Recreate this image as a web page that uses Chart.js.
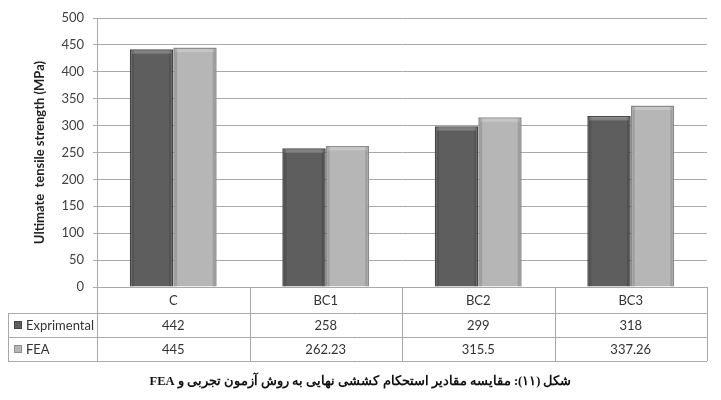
<!DOCTYPE html>
<html>
<head>
<meta charset="utf-8">
<script src="https://cdn.jsdelivr.net/npm/chart.js@4.4.0/dist/chart.umd.min.js"></script>
<style>
  body { margin: 0; background: #fff; width: 721px; height: 400px; position: relative; overflow: hidden; }
  #chart { position: absolute; left: 0; top: 0; }
  #caption {
    position: absolute; left: 0; top: 373px; width: 721px; text-align: center;
    font: bold 12.5px "Liberation Serif", "DejaVu Serif", serif; color: #111;
  }
</style>
</head>
<body>
<canvas id="chart" width="721" height="400"></canvas>
<div id="caption" dir="rtl">شکل (۱۱): مقایسه مقادیر استحکام کششی نهایی به روش آزمون تجربی و FEA</div>
<script>
// ====== DADOS ======
const categories = ["C", "BC1", "BC2", "BC3"];
const seriesNames = ["Exprimental", "FEA"];
const experimental = [442, 258, 299, 318];
const fea = [445, 262.23, 315.5, 337.26];
const expLabels = ["442", "258", "299", "318"];
const feaLabels = ["445", "262.23", "315.5", "337.26"];
const yTicks = [0, 50, 100, 150, 200, 250, 300, 350, 400, 450, 500];

const darkFill = "#5e5e5e", darkEdge = "#454545";
const lightFill = "#b6b6b6", lightEdge = "#8e8e8e";
const lineColor = "#a9a9a9";
const textFont = '13px Lato, "Open Sans", sans-serif';

// ====== EFEITO DE CHANFRO NAS BARRAS ======
const bevel = {
  id: "bevel",
  afterDatasetsDraw(chart) {
    const ctx = chart.ctx;
    ctx.save();
    chart.data.datasets.forEach((ds, di) => {
      chart.getDatasetMeta(di).data.forEach(bar => {
        const left = bar.x - bar.width / 2, top = bar.y;
        const w = bar.width, h = bar.base - bar.y;
        ctx.fillStyle = "rgba(255,255,255,0.22)";
        ctx.fillRect(left + 2, top + 1.5, w - 4, 3);
        ctx.fillStyle = "rgba(0,0,0,0.12)";
        ctx.fillRect(left + 1, top + 1, 3, h - 1);
        ctx.fillRect(left + w - 4, top + 1, 3, h - 1);
      });
    });
    ctx.restore();
  }
};

// ====== TABELA DE DADOS (abaixo do gráfico) ======
const dataTable = {
  id: "dataTable",
  afterDraw(chart) {
    const ctx = chart.ctx;
    const xs = chart.scales.x;
    const area = chart.chartArea;
    const tableLeft = 8;
    const rows = [area.bottom, area.bottom + 26, area.bottom + 50, area.bottom + 74];
    const cellW = (area.right - area.left) / categories.length;

    ctx.save();
    ctx.strokeStyle = lineColor;
    ctx.lineWidth = 1;
    ctx.beginPath();
    // linhas horizontais
    ctx.moveTo(tableLeft, rows[1] + 0.5); ctx.lineTo(area.right, rows[1] + 0.5);
    ctx.moveTo(tableLeft, rows[2] + 0.5); ctx.lineTo(area.right, rows[2] + 0.5);
    ctx.moveTo(tableLeft, rows[3] + 0.5); ctx.lineTo(area.right, rows[3] + 0.5);
    // linhas verticais
    ctx.moveTo(tableLeft + 0.5, rows[1]); ctx.lineTo(tableLeft + 0.5, rows[3]);
    for (let i = 0; i <= categories.length; i++) {
      const x = Math.round(area.left + cellW * i) + 0.5;
      ctx.moveTo(x, rows[0]); ctx.lineTo(x, rows[3]);
    }
    ctx.stroke();

    ctx.font = textFont;
    ctx.fillStyle = "#333";
    ctx.textAlign = "center";
    ctx.textBaseline = "middle";
    categories.forEach((c, i) => {
      const cx = xs.getPixelForValue(i);
      ctx.fillText(c, cx, (rows[0] + rows[1]) / 2 + 1);
      ctx.fillText(expLabels[i], cx, (rows[1] + rows[2]) / 2 + 1);
      ctx.fillText(feaLabels[i], cx, (rows[2] + rows[3]) / 2 + 1);
    });

    // legenda dentro da tabela
    ctx.textAlign = "left";
    const swatches = [[darkFill, darkEdge], [lightFill, lightEdge]];
    seriesNames.forEach((name, i) => {
      const cy = (rows[i + 1] + rows[i + 2]) / 2;
      ctx.fillStyle = swatches[i][0];
      ctx.fillRect(14, cy - 4, 8, 8);
      ctx.strokeStyle = swatches[i][1];
      ctx.strokeRect(14.5, cy - 3.5, 7, 7);
      ctx.fillStyle = "#333";
      ctx.fillText(name, 26, cy + 1);
    });
    ctx.restore();
  }
};

new Chart(document.getElementById("chart"), {
  type: "bar",
  data: {
    labels: categories,
    datasets: [
      { label: seriesNames[0], data: experimental, backgroundColor: darkFill, borderColor: darkEdge, borderWidth: 1.5 },
      { label: seriesNames[1], data: fea, backgroundColor: lightFill, borderColor: lightEdge, borderWidth: 1.5 }
    ]
  },
  options: {
    responsive: false,
    animation: false,
    layout: { padding: { left: 0, top: 18, right: 14, bottom: 113 } },
    datasets: { bar: { categoryPercentage: 0.57, barPercentage: 1.0 } },
    plugins: { legend: { display: false }, tooltip: { enabled: false } },
    scales: {
      x: { display: false },
      y: {
        min: 0, max: 500,
        afterFit(scale) { scale.width = 97; },
        afterBuildTicks(scale) { scale.ticks = yTicks.map(v => ({ value: v })); },
        ticks: { color: "#404040", font: { family: 'Lato, "Open Sans", sans-serif', size: 13 }, padding: 9 },
        grid: { color: lineColor, tickLength: 4, lineWidth: 1 },
        border: { display: true, color: lineColor },
        title: {
          display: true,
          text: "Ultimate  tensile strength (MPa)",
          color: "#222",
          font: { family: 'Lato, "Open Sans", sans-serif', size: 13, weight: "bold" },
          padding: { top: 32, bottom: 0 }
        }
      }
    }
  },
  plugins: [bevel, dataTable]
});
</script>
</body>
</html>
